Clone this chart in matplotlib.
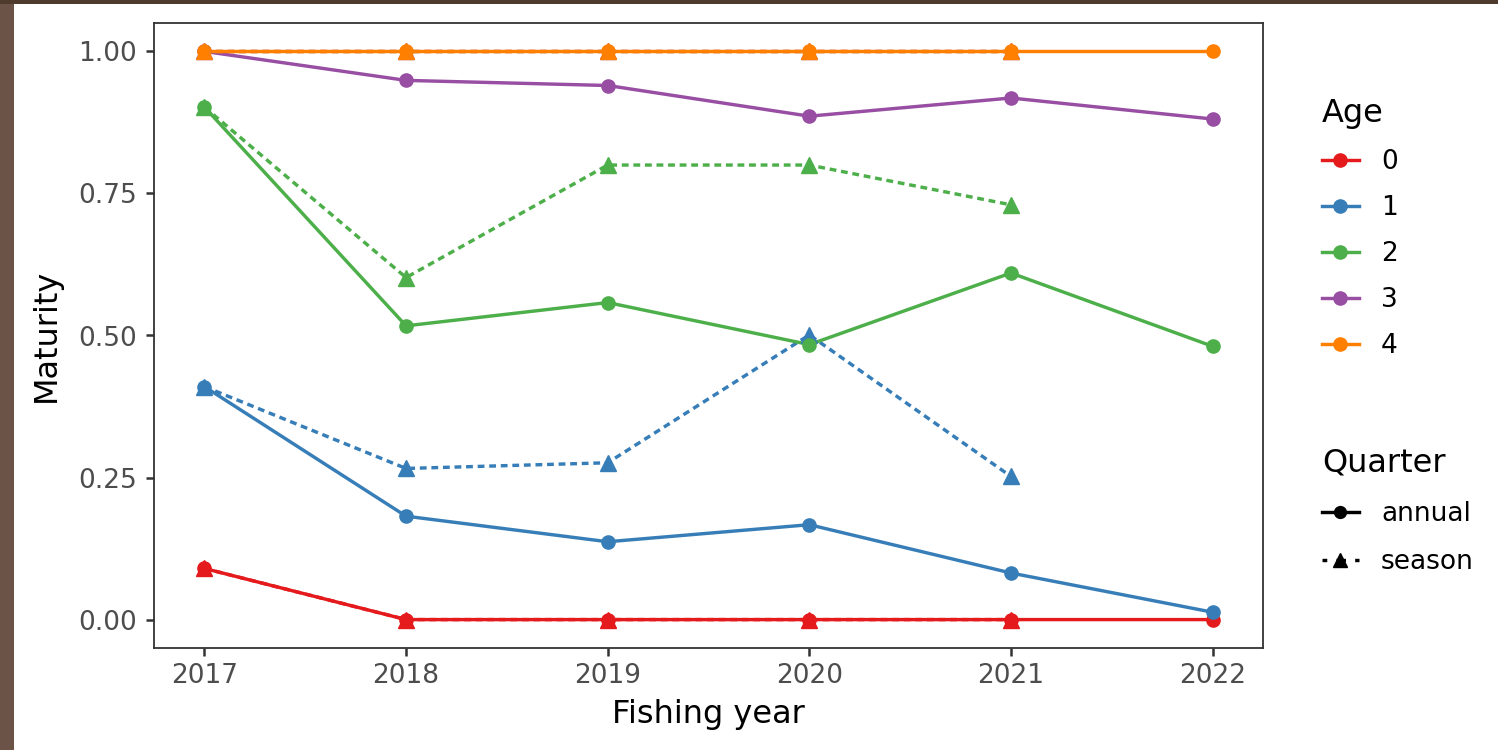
import matplotlib
matplotlib.use("Agg")
import matplotlib.pyplot as plt
from matplotlib.lines import Line2D
from matplotlib.patches import Rectangle

plt.rcParams['font.family'] = ['DejaVu Sans']

years_annual = [2017, 2018, 2019, 2020, 2021, 2022]
years_season = [2017, 2018, 2019, 2020, 2021]
ages = ['0', '1', '2', '3', '4']
colors = ['#E41A1C', '#377EB8', '#4DAF4A', '#984EA3', '#FF7F00']

annual = {
    '0': [0.09, 0.0, 0.0, 0.0, 0.0, 0.0],
    '1': [0.41, 0.182, 0.137, 0.167, 0.082, 0.013],
    '2': [0.902, 0.517, 0.558, 0.484, 0.61, 0.481],
    '3': [1.0, 0.949, 0.94, 0.886, 0.918, 0.881],
    '4': [1.0, 1.0, 1.0, 1.0, 1.0, 1.0],
}
season = {
    '0': [0.09, 0.0, 0.0, 0.0, 0.0],
    '1': [0.41, 0.266, 0.276, 0.501, 0.252],
    '2': [0.902, 0.602, 0.80, 0.80, 0.73],
    '3': [1.0, 1.0, 1.0, 1.0, 1.0],
    '4': [1.0, 1.0, 1.0, 1.0, 1.0],
}
yticks = [0.0, 0.25, 0.5, 0.75, 1.0]
ytick_labels = ['0.00', '0.25', '0.50', '0.75', '1.00']

fig = plt.figure(figsize=(14.98, 7.5), dpi=100)
fig.patch.set_facecolor('white')
# brown frame strips
fig.patches.append(Rectangle((0, 0), 14/1498, 1, transform=fig.transFigure,
                             facecolor='#6b5347', edgecolor='none', zorder=0))
fig.patches.append(Rectangle((0, 1-4/750), 1, 4/750, transform=fig.transFigure,
                             facecolor='#4f3a2e', edgecolor='none', zorder=0))

ax = fig.add_axes([154/1498, 1-648/750, (1263-154)/1498, (648-23)/750])

lw = 2.45
dash = (2.0, 1.4)
for a, c in zip(ages, colors):
    ax.plot(years_annual, annual[a], color=c, lw=lw, solid_capstyle='butt', zorder=2)
    ax.plot(years_season, season[a], color=c, lw=lw, dashes=dash, zorder=2)
for a, c in zip(ages, colors):
    ax.plot(years_annual, annual[a], ls='none', marker='o', ms=9.5, color=c, mec=c, zorder=3)
    ax.plot(years_season, season[a], ls='none', marker='^', ms=11.5, color=c, mec=c, zorder=3)

ax.set_xlim(2016.75, 2022.25)
ax.set_ylim(-0.05, 1.05)
ax.set_xticks(years_annual)
ax.set_xticklabels([str(y) for y in years_annual])
ax.set_yticks(yticks)
ax.set_yticklabels(ytick_labels)
ax.tick_params(axis='both', labelsize=19, colors='#333333', labelcolor='#4d4d4d',
               length=6, width=1.8, pad=5)
ax.tick_params(axis='y', pad=6)
for s in ax.spines.values():
    s.set_color('#333333')
    s.set_linewidth(1.3)
ax.set_xlabel('Fishing year', fontsize=23, color='black', labelpad=7)
ax.set_ylabel('Maturity', fontsize=23, color='black', labelpad=12)

# legends
age_handles = [Line2D([0], [0], color=c, lw=lw, marker='o', ms=9.5) for c in colors]
leg1 = fig.legend(age_handles, ages, title='Age', loc='upper left',
                  bbox_to_anchor=(1298/1498, 1-74/750), frameon=False,
                  fontsize=19, title_fontsize=23, handlelength=1.4,
                  handletextpad=0.85, labelspacing=0.76, alignment='left')
q_handles = [Line2D([0], [0], color='black', lw=lw, marker='o', ms=8.5),
             Line2D([0], [0], color='black', lw=lw, marker='^', ms=10,
                    linestyle=(1.4, (2.8, 2.7)))]
leg2 = fig.legend(q_handles, ['annual', 'season'], title='Quarter', loc='upper left',
                  bbox_to_anchor=(1298/1498, 1-424/750), frameon=False,
                  fontsize=19, title_fontsize=23, handlelength=1.4,
                  handletextpad=0.85, labelspacing=0.84, alignment='left')

fig.savefig('out.png', dpi=100)
